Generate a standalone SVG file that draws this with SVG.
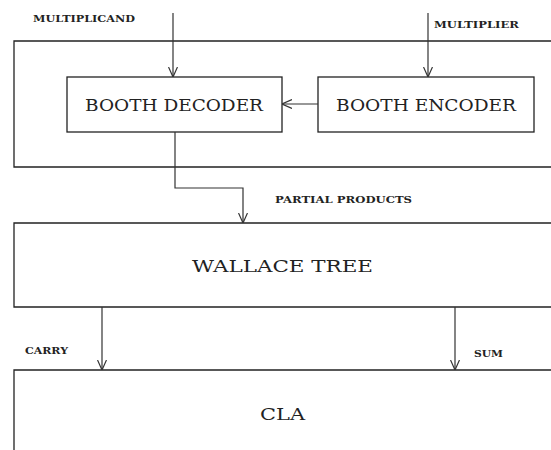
<svg xmlns="http://www.w3.org/2000/svg" width="551" height="450" viewBox="0 0 551 450">
<defs>
<style>
.box{fill:none;stroke:#222;stroke-width:1.3}
.ln{fill:none;stroke:#333;stroke-width:1.2}
.big{font-family:"DejaVu Serif","Liberation Serif",serif;font-size:16px;fill:#222}
.sm{font-family:"DejaVu Serif","Liberation Serif",serif;font-size:9px;font-weight:bold;fill:#222}
</style>
<marker id="ah" viewBox="0 0 10 10" refX="10" refY="5" markerWidth="10" markerHeight="10" markerUnits="userSpaceOnUse" orient="auto">
<path d="M0,0.5 L10,5 L0,9.5" fill="none" stroke="#333" stroke-width="1.2"/>
</marker>
</defs>
<rect width="551" height="450" fill="#fff"/>
<g id="outer">
<path class="box" d="M560,41 H14 V167 H560"/>
</g>
<g id="decoder">
<rect class="box" x="67" y="77" width="215" height="55"/>
<text class="big" x="85" y="111" textLength="178" lengthAdjust="spacingAndGlyphs">BOOTH DECODER</text>
</g>
<g id="encoder">
<rect class="box" x="318" y="77" width="216" height="55"/>
<text class="big" x="336" y="111" textLength="180" lengthAdjust="spacingAndGlyphs">BOOTH ENCODER</text>
</g>
<g id="wallace">
<path class="box" d="M560,223 H14 V307 H560"/>
<text class="big" x="192" y="272" textLength="181" lengthAdjust="spacingAndGlyphs">WALLACE TREE</text>
</g>
<g id="cla">
<path class="box" d="M560,370 H14 V460"/>
<text class="big" x="260" y="420" textLength="45" lengthAdjust="spacingAndGlyphs">CLA</text>
</g>
<g id="labels">
<text class="sm" x="33" y="22" textLength="102" lengthAdjust="spacingAndGlyphs">MULTIPLICAND</text>
<text class="sm" x="434" y="28" textLength="85" lengthAdjust="spacingAndGlyphs">MULTIPLIER</text>
<text class="sm" x="275" y="203" textLength="137" lengthAdjust="spacingAndGlyphs">PARTIAL PRODUCTS</text>
<text class="sm" x="25" y="354" textLength="43" lengthAdjust="spacingAndGlyphs">CARRY</text>
<text class="sm" x="474" y="357" textLength="29" lengthAdjust="spacingAndGlyphs">SUM</text>
</g>
<g id="connectors">
<path class="ln" d="M173,13 V77" marker-end="url(#ah)"/>
<path class="ln" d="M428,13 V77" marker-end="url(#ah)"/>
<path class="ln" d="M318,104 H282" marker-end="url(#ah)"/>
<path class="ln" d="M175,132 V188 H243 V223" marker-end="url(#ah)"/>
<path class="ln" d="M102,307 V370" marker-end="url(#ah)"/>
<path class="ln" d="M455,307 V370" marker-end="url(#ah)"/>
</g>
</svg>
